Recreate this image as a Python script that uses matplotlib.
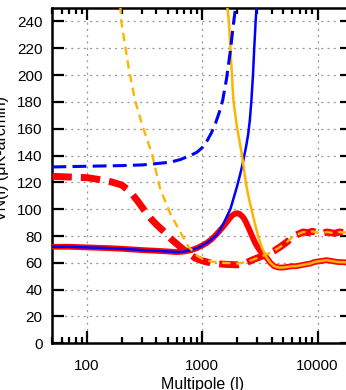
import numpy as np
import matplotlib.pyplot as plt
from matplotlib.ticker import NullFormatter

plt.rcParams['font.family'] = ['Liberation Sans', 'DejaVu Sans']
plt.rcParams['lines.scale_dashes'] = False

# red thick solid (blue solid sits on top of it at low l, orange solid at high l)
ell_red = [50, 70, 100, 150, 200, 300, 400, 500, 600, 700, 800, 900, 1000, 1100, 1200,
           1300, 1400, 1500, 1600, 1700, 1800, 1900, 2000, 2100, 2200, 2300, 2400, 2550,
           2700, 2850, 3000, 3200, 3400, 3600, 3900, 4200, 4600, 5000, 5500, 6000, 6500,
           7000, 7500, 8000, 8700, 9300, 10000, 11000, 12000, 13000, 14000, 15500, 17000,
           18500, 20000]
red_solid = [72, 72, 71.5, 71, 70.5, 69.5, 69, 68.5, 68, 68.5, 69.5, 71, 73, 75, 77.5,
             80.5, 83.5, 86.5, 89.5, 92.5, 95, 96.5, 97, 96.5, 95, 93, 90, 85,
             80, 75.5, 72, 68.5, 66, 64, 60, 57.5, 56.5, 56.5, 57, 57.5, 57.5,
             58, 58.5, 59, 59.5, 60.5, 61, 61.5, 62, 61.5, 61, 60.5, 60.5,
             60, 60]

# blue solid
ell_blue = [50, 70, 100, 150, 200, 300, 400, 500, 600, 700, 800, 900, 1000, 1100, 1200,
            1340, 1500, 1750, 1850, 2000, 2100, 2200, 2300, 2400, 2500, 2580, 2660, 2750,
            2820, 2900, 2960, 3000]
blue_solid = [72, 72, 71.5, 71, 70.5, 69.5, 69, 68.5, 68, 68.5, 69.5, 71, 73, 75, 77.5,
              81, 88, 100, 107, 117, 124, 131, 139, 147, 156, 166, 180, 200,
              220, 240, 252, 262]

# blue dashed
ell_blue_d = [50, 100, 200, 300, 400, 525, 644, 787, 900, 1000, 1100, 1200, 1300, 1400,
              1500, 1620, 1750, 1860, 1940, 2000]
blue_dashed = [131.5, 132, 132.5, 133, 134, 135, 137, 140, 142.5, 146, 151, 157, 164, 172,
               181, 197, 218, 238, 250, 258]

# orange solid
ell_orange = [1620, 1640, 1700, 1780, 1860, 2000, 2210, 2400, 2550, 2700, 2900, 3070, 3300,
              3600, 3900, 4200, 4600, 5000, 5500, 6000, 6500, 7000, 7500, 8000, 8700, 9300,
              10000, 11000, 12000, 13000, 14000, 15500, 17000, 18500, 20000]
orange_solid = [260, 252, 240, 210, 181, 161, 140, 118, 107, 98, 87, 79, 71,
                64, 60, 57.5, 56.5, 56.5, 57, 57.5, 57.5, 58, 58.5, 59, 59.5, 60.5,
                61, 61.5, 62, 61.5, 61, 60.5, 60.5, 60, 60]

# red thick dashed
ell_red_d = [50, 70, 100, 130, 160, 200, 237, 275, 315, 353, 400, 476, 548, 683, 870, 1000,
             1240, 1500, 2000, 2400, 2770, 3200, 3640, 4200, 4760, 5500, 6200, 7500, 8300,
             9000, 10000, 11000, 12000, 13000, 14000, 15500, 17000, 18500, 20000]
red_dashed = [124.5, 124, 123.5, 122, 120.5, 118, 113, 106, 99, 93.5, 88.5, 82.5, 77, 70, 63.5, 61.5,
              59.5, 59, 58.5, 60, 62.5, 64.5, 66.5, 69, 72, 76, 80, 83, 82.5,
              83.5, 82.5, 82, 83, 82.5, 82, 83, 82.5, 83, 82.5]

# orange dashed
ell_orange_d = [194, 198, 230, 261, 300, 366, 431, 476, 525, 643, 760, 893, 1000, 1200,
                1500, 2000, 2400, 2770, 3200, 3640, 4200, 4760, 5500, 6200, 7500, 8300,
                9000, 10000, 11000, 12000, 13000, 14000, 15500, 17000, 18500, 20000]
orange_dashed = [252, 240, 205, 181, 163, 141, 115, 106, 97, 83, 72, 65.5, 63, 61,
                 60, 59.5, 60.5, 62.5, 64.5, 66.5, 69, 72, 76, 80, 83, 82.5,
                 83.5, 82.5, 82, 83, 82.5, 82, 83, 82.5, 83, 82.5]

xticks = [100, 1000, 10000]
xticklabels = ['100', '1000', '10000']
yticks = list(range(0, 241, 20))

red = '#ff0000'
blue = '#0000ff'
orange = '#ffb400'

fig = plt.figure(figsize=(3.46, 3.9), dpi=100)
ax = fig.add_axes([0.1514, 0.1197, 0.8668, 0.8598])

ax.plot(ell_red_d, red_dashed, color=red, lw=5, dashes=(14, 6.5), dash_capstyle='butt', zorder=3)
ax.plot(ell_red, red_solid, color=red, lw=4.2, zorder=3)
ax.plot(ell_blue, blue_solid, color=blue, lw=1.8, zorder=4)
ax.plot(ell_orange, orange_solid, color=orange, lw=1.8, zorder=4)
ax.plot(ell_blue_d, blue_dashed, color=blue, lw=2.2, dashes=(10, 4.5), dash_capstyle='butt', zorder=4)
ax.plot(ell_orange_d, orange_dashed, color=orange, lw=1.7, dashes=(6, 4), dash_capstyle='butt', zorder=4)

ax.set_xscale('log')
ax.set_xlim(50, 20000)
ax.set_ylim(0, 250)
ax.set_xticks(xticks)
ax.set_xticklabels(xticklabels)
ax.xaxis.set_minor_formatter(NullFormatter())
ax.set_yticks(yticks)

ax.grid(True, which='major', color='#999999', lw=0.9, dashes=(1.5, 3))
ax.set_axisbelow(True)
ax.tick_params(which='both', direction='in', top=True, right=True, labelsize=11, width=1.6)
ax.tick_params(which='major', length=8.5)
ax.tick_params(axis='x', which='major', pad=11)
ax.tick_params(axis='y', which='major', pad=7)
ax.tick_params(which='minor', length=4.5)
for s in ax.spines.values():
    s.set_linewidth(1.8)

ax.set_xlabel('Multipole (l)', fontsize=11.5, labelpad=3)
ax.set_ylabel('VN(l) (\u03bcK-arcmin)', fontsize=11.5)
ax.yaxis.set_label_coords(-0.145, 0.55)

fig.savefig('out.png', dpi=100)
